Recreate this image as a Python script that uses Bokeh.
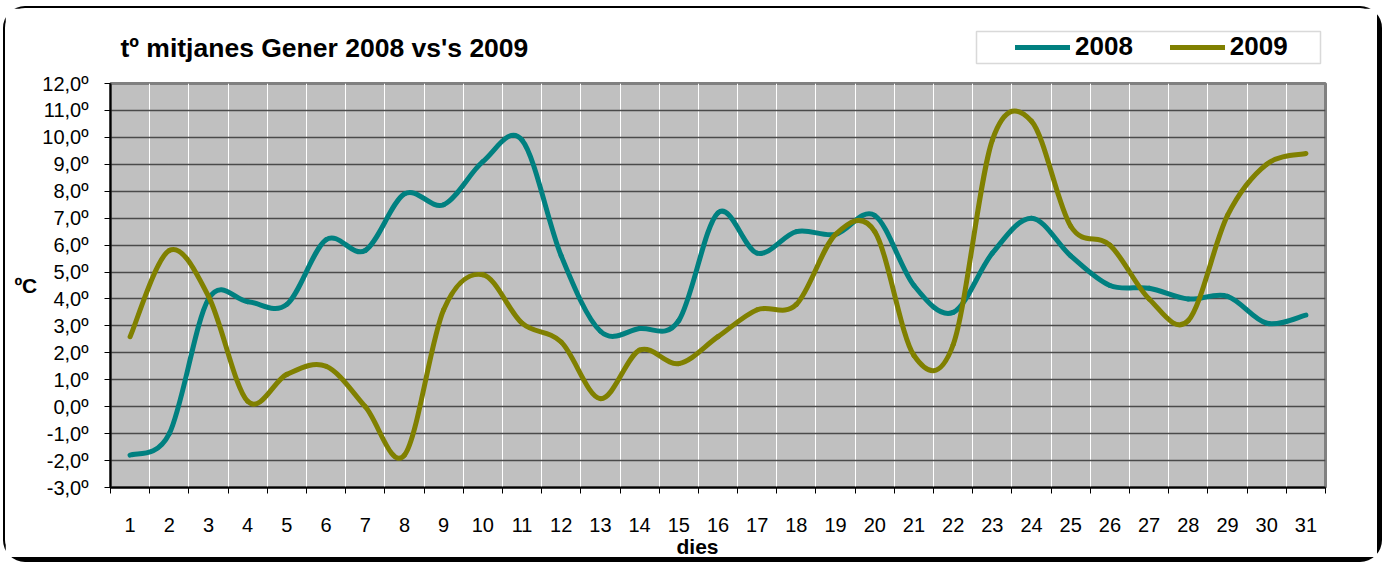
import numpy as np
from bokeh.plotting import figure
from bokeh.layouts import column
from bokeh.models import Range1d, FixedTicker, Label, Legend, LegendItem, BoxAnnotation, Title
from bokeh.embed import file_html
from bokeh.resources import INLINE

# ---------------- data ----------------
days = list(range(1, 32))
day_labels = [str(d) for d in days]
temp_2008 = [-1.8, -1.0, 4.0, 3.9, 3.8, 6.2, 5.8, 7.9, 7.5, 9.1, 9.9, 5.6, 2.8, 2.9, 3.2, 7.2,
             5.7, 6.5, 6.4, 7.1, 4.5, 3.5, 5.7, 7.0, 5.6, 4.5, 4.4, 4.0, 4.1, 3.1, 3.4]
temp_2009 = [2.6, 5.8, 4.1, 0.2, 1.2, 1.5, 0.0, -1.8, 3.6, 4.9, 3.1, 2.4, 0.3, 2.1, 1.6, 2.6,
             3.6, 3.8, 6.4, 6.5, 1.9, 2.3, 9.9, 10.6, 6.7, 6.0, 4.0, 3.2, 7.1, 9.0, 9.4]
series_names = ["2008", "2009"]
series_colors = ["#008080", "#808000"]
y_ticks = list(range(-3, 13))
y_tick_labels = [f"{t},0º" for t in y_ticks]
title_text = "tº mitjanes Gener 2008 vs's 2009"
x_title = "dies"
y_title = "ºC"

FONT = "Liberation Sans"
CW = 1372          # content width
HEAD_H = 63        # header strip height
MAIN_H = 486       # chart figure height
BL, BR = 105, 52   # left/right borders (shared by both figures)

# ---------------- header: title + legend ----------------
head = figure(width=CW, height=HEAD_H, output_backend="svg", toolbar_location=None,
              x_range=Range1d(0, CW - BL - BR), y_range=Range1d(0, HEAD_H),
              min_border_left=BL, min_border_right=BR, min_border_top=0, min_border_bottom=0,
              outline_line_color=None)
head.axis.visible = False
head.grid.visible = False
head.background_fill_color = "white"
head.add_layout(Label(x=10, y=24, text=title_text, text_font=FONT, text_font_style="bold",
                      text_font_size="26.5px", text_color="black",
                      text_baseline="middle", text_align="left"))
head.add_layout(BoxAnnotation(left=866, right=1210, bottom=8, top=40, fill_color="white",
                              fill_alpha=1, line_color="#808080", line_width=1.5))
proxies = [head.line(x=np.array([np.nan]), y=np.array([np.nan]), line_color=c, line_width=5,
                     line_cap="round") for c in series_colors]
legend = Legend(items=[LegendItem(label=n, renderers=[r]) for n, r in zip(series_names, proxies)],
                orientation="horizontal", location=(905, 9),
                padding=0, margin=0, spacing=37, glyph_width=55, glyph_height=30,
                label_standoff=5, label_height=30,
                border_line_color=None, background_fill_alpha=0,
                label_text_font=FONT, label_text_font_style="bold",
                label_text_font_size="26px", label_text_color="black")
head.add_layout(legend)

# ---------------- main chart ----------------
p = figure(width=CW, height=MAIN_H, output_backend="svg", toolbar_location=None,
           x_range=Range1d(0.5, 31.5), y_range=Range1d(-3, 12),
           min_border_left=BL, min_border_right=BR, min_border_top=12, min_border_bottom=70)
p.background_fill_color = "#C0C0C0"
p.border_fill_color = "white"
p.outline_line_color = "#808080"
p.outline_line_width = 3

p.xaxis.ticker = FixedTicker(ticks=days, minor_ticks=[d + 0.5 for d in [0] + days])
p.xaxis.major_label_overrides = {d: l for d, l in zip(days, day_labels)}
p.xaxis.major_tick_out = 0
p.xaxis.major_tick_in = 0
p.xaxis.minor_tick_out = 6
p.xaxis.minor_tick_in = 0
p.xaxis.minor_tick_line_color = "black"
p.xaxis.major_label_standoff = 24

p.yaxis.ticker = FixedTicker(ticks=y_ticks, minor_ticks=[])
p.yaxis.major_label_overrides = {t: l for t, l in zip(y_ticks, y_tick_labels)}
p.yaxis.major_tick_out = 6
p.yaxis.major_tick_in = 0
p.yaxis.major_label_standoff = 16
p.yaxis.axis_label = y_title
p.yaxis.axis_label_orientation = "horizontal"
p.yaxis.axis_label_standoff = 2

for ax in (p.xaxis, p.yaxis):
    ax.axis_line_color = "black"
    ax.axis_line_width = 2
    ax.major_label_text_font = FONT
    ax.major_label_text_font_size = "20px"
    ax.major_label_text_color = "black"
    ax.axis_label_text_font = FONT
    ax.axis_label_text_font_style = "bold"
    ax.axis_label_text_font_size = "21px"
    ax.axis_label_text_color = "black"

p.add_layout(Title(text=x_title, align="left", offset=566, standoff=-3,
                   text_font=FONT, text_font_style="bold", text_font_size="21px",
                   text_color="black"), "below")

p.xgrid.ticker = FixedTicker(ticks=[d + 0.5 for d in [0] + days])
p.xgrid.grid_line_color = "white"
p.xgrid.grid_line_width = 1
p.ygrid.ticker = FixedTicker(ticks=y_ticks)
p.ygrid.grid_line_color = "#4a4a4a"
p.ygrid.grid_line_width = 1.5


def bezier_parts(xs, ys, k=1 / 6):
    x = np.asarray(xs, float)
    y = np.asarray(ys, float)
    xp = np.concatenate([[x[0]], x, [x[-1]]])
    yp = np.concatenate([[y[0]], y, [y[-1]]])
    n = len(x)
    return dict(
        x0=x[:-1], y0=y[:-1], x1=x[1:], y1=y[1:],
        cx0=x[:-1] + (xp[2:n + 1] - xp[0:n - 1]) * k,
        cy0=y[:-1] + (yp[2:n + 1] - yp[0:n - 1]) * k,
        cx1=x[1:] - (xp[3:n + 2] - xp[1:n]) * k,
        cy1=y[1:] - (yp[3:n + 2] - yp[1:n]) * k,
    )


for vals, col in zip([temp_2008, temp_2009], series_colors):
    p.bezier(source=bezier_parts(days, vals), x0="x0", y0="y0", x1="x1", y1="y1",
             cx0="cx0", cy0="cy0", cx1="cx1", cy1="cy1",
             line_color=col, line_width=5, line_cap="round")

layout = column(head, p, spacing=0, margin=(6, 0, 0, 3),
                styles={"border": "2px solid black", "border-right-width": "5px",
                        "border-bottom-width": "5px", "border-radius": "22px"})

open("out.html", "w").write(file_html(layout, INLINE))
